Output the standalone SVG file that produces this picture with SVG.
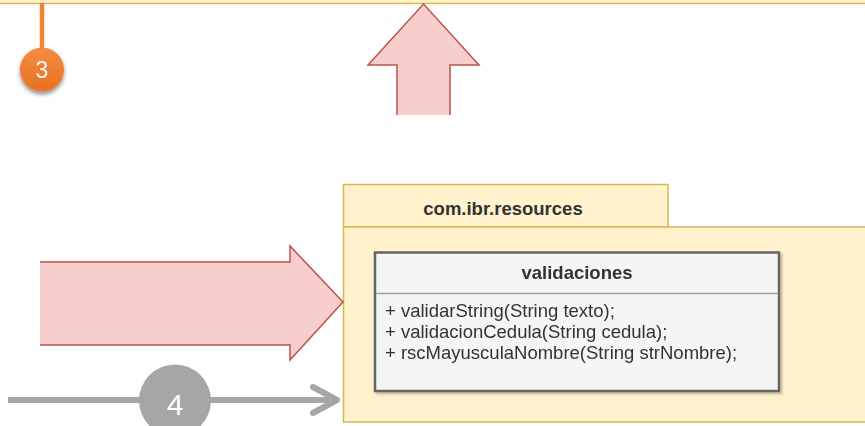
<svg xmlns="http://www.w3.org/2000/svg" width="865" height="426" viewBox="0 0 865 426">
<style>
.pkg{fill:#fff2cc;stroke:#d6b656;stroke-width:1.5}
.blk{fill:#f8cecc}
.blkline{fill:none;stroke:#b85450;stroke-width:1.5;stroke-linejoin:miter}
.t{font-family:"Liberation Sans",Arial,sans-serif;fill:#333333}
.b{font-weight:bold;font-size:18.5px}
.m{font-size:18.5px}
.badge{font-family:"Liberation Sans",Arial,sans-serif;fill:#ffffff;text-anchor:middle}
</style>
<defs>
<linearGradient id="og" x1="0" y1="0" x2="0" y2="1">
<stop offset="0" stop-color="#f48c42"/>
<stop offset="1" stop-color="#e8711f"/>
</linearGradient>
<filter id="sh" x="-30%" y="-30%" width="160%" height="170%">
<feGaussianBlur in="SourceAlpha" stdDeviation="2"/>
<feOffset dx="0" dy="3" result="o"/>
<feComponentTransfer><feFuncA type="linear" slope="0.45"/></feComponentTransfer>
<feMerge><feMergeNode/><feMergeNode in="SourceGraphic"/></feMerge>
</filter>
<filter id="csh" x="-5%" y="-5%" width="110%" height="115%">
<feGaussianBlur in="SourceAlpha" stdDeviation="1"/>
<feOffset dx="2" dy="2"/>
<feComponentTransfer><feFuncA type="linear" slope="0.25"/></feComponentTransfer>
<feMerge><feMergeNode/><feMergeNode in="SourceGraphic"/></feMerge>
</filter>
</defs>

<g id="package-top">
<rect class="pkg" x="-10" y="-100" width="885" height="103.5"/>
</g>

<g id="package-com-ibr-resources">
<rect class="pkg" x="343.5" y="184.5" width="324.5" height="42.5"/>
<rect class="pkg" x="343.5" y="227" width="540" height="195"/>
<text class="t b" x="503" y="215" text-anchor="middle">com.ibr.resources</text>
</g>

<g id="class-validaciones" filter="url(#csh)">
<rect x="375" y="252.5" width="404" height="138.5" fill="#f5f5f5" stroke="#666666" stroke-width="2.5"/>
<line x1="376" y1="293.5" x2="778" y2="293.5" stroke="#a0a0a0" stroke-width="1.5"/>
<text class="t b" x="577" y="279" text-anchor="middle">validaciones</text>
<text class="t m" x="385" y="317">+ validarString(String texto);</text>
<text class="t m" x="385" y="338">+ validacionCedula(String cedula);</text>
<text class="t m" x="385" y="359">+ rscMayusculaNombre(String strNombre);</text>
</g>

<g id="connectors">
<line x1="42" y1="3" x2="42" y2="52" stroke="#ef8434" stroke-width="4.5"/>
<polygon class="blk" points="397,115 397,65 368,65 423.5,4 479,65 450,65 450,115"/>
<polyline class="blkline" points="397,115 397,65 368,65 423.5,4 479,65 450,65 450,115"/>
<polygon class="blk" points="40,262 290,262 290,246 343,302 290,360 290,345 40,345"/>
<polyline class="blkline" points="40,262 290,262 290,246 343,302 290,360 290,345 40,345"/>
<line x1="8" y1="400" x2="150" y2="400" stroke="#a6a6a6" stroke-width="6"/>
<line x1="200" y1="400" x2="336" y2="400" stroke="#a6a6a6" stroke-width="6"/>
<polyline points="313,387 337,400 313,413" fill="none" stroke="#a6a6a6" stroke-width="6" stroke-linecap="round" stroke-linejoin="round"/>
</g>

<g id="badge-3" filter="url(#sh)">
<circle cx="42" cy="69.5" r="22" fill="url(#og)"/>
<text class="badge" x="42" y="78" font-size="23px">3</text>
</g>

<g id="badge-4">
<circle cx="175" cy="400.5" r="36" fill="#a6a6a6"/>
<text class="badge" x="175" y="415" font-size="30px">4</text>
</g>
</svg>
